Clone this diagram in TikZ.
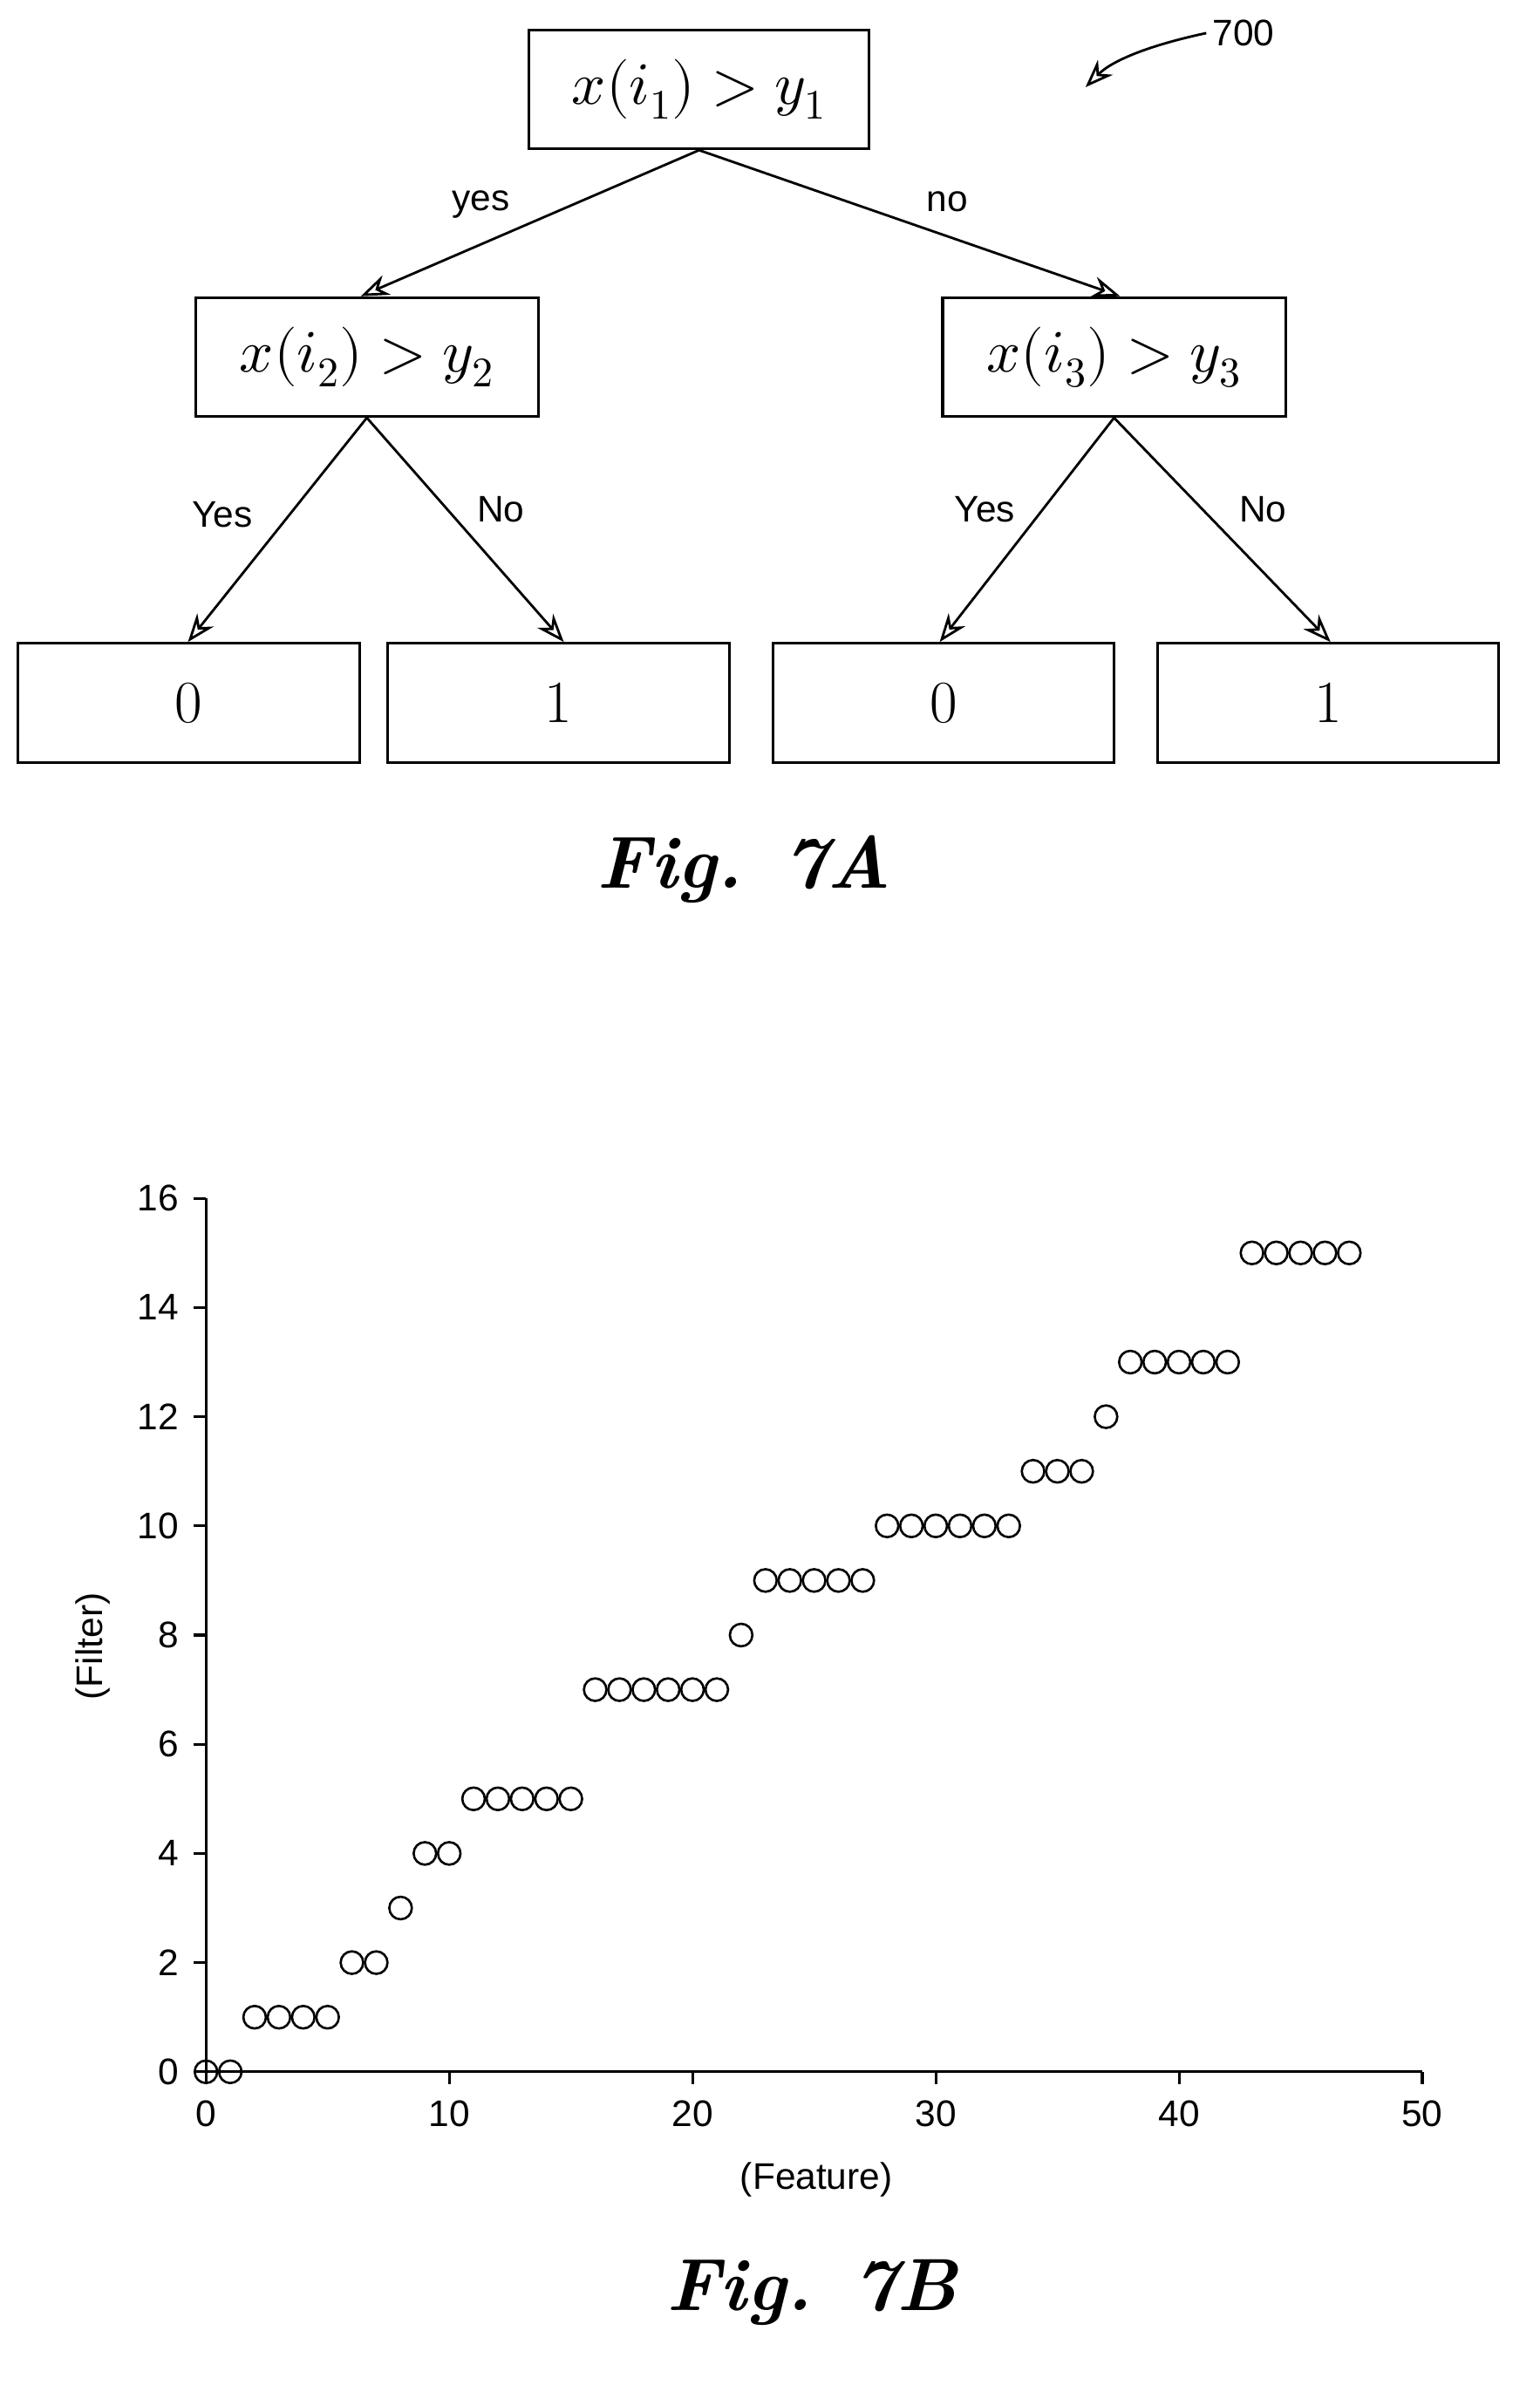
\documentclass[tikz,border=0pt]{standalone}
\usetikzlibrary{arrows.meta}
\usepackage{fontspec}
\usepackage{unicode-math}
\setmathfont{Latin Modern Math}
\newfontfamily\lab{Liberation Sans}
\begin{document}
\begin{tikzpicture}[x=0.03cm,y=-0.03cm,
  box/.style={draw,line width=1.5pt,minimum width=6.84cm,minimum height=2.37cm,font=\fontsize{34}{38}\selectfont,inner sep=0pt},
  leaf/.style={box,minimum width=6.81cm},
  arr/.style={line width=1.4pt,-{Stealth[length=16pt,width=12pt,open]}},
  lbl/.style={font=\lab\fontsize{21}{24}\selectfont},
  tick/.style={font=\lab\fontsize{21}{24}\selectfont},
  pt/.style={draw,line width=1.3pt,circle,inner sep=0pt,minimum size=0.45cm}]
\useasboundingbox (0,0) rectangle (1024,1591);
\node[box,minimum width=6.78cm] (r) at (465,59.5) {$x(i_1) > y_1$};
\node[box] (a) at (244,237.5) {$x(i_2) > y_2$};
\node[box] (b) at (741,237.5) {$x(i_3) > y_3$};
\node[leaf] (l1) at (125.5,467.5) {0};
\node[leaf] (l2) at (371.5,467.5) {1};
\node[leaf] (l3) at (627.5,467.5) {0};
\node[leaf] (l4) at (883.5,467.5) {1};
\draw[arr] (r.south) -- (240,197);
\draw[arr] (r.south) -- (745,197);
\draw[arr] (a.south) -- (125,427);
\draw[arr] (a.south) -- (375,427);
\draw[arr] (b.south) -- (625,427);
\draw[arr] (b.south) -- (885,427);
\node[lbl] (t1) at (320,136) {yes};
\node[lbl] (t2) at (630,134) {no};
\node[lbl] (t3) at (148,342) {Yes};
\node[lbl] (t4) at (333,339) {No};
\node[lbl] (t5) at (655,339) {Yes};
\node[lbl] (t6) at (840,339) {No};
\node[lbl] (n700) at (827,22) {700};
\coordinate (ae) at (722,58);
\draw[arr] (n700.west) .. controls (765,30) and (740,40) .. (ae);
\node[font=\bfseries\itshape\fontsize{42}{46}\selectfont] (f7a) at (495,578) {Fig. 7A};
\draw[line width=1.5pt] (137,797) -- (137,1378) -- (946,1378);
\foreach \v in {0,2,...,16}{\draw[line width=1.5pt] (137,1378-36.31*\v) -- (129,1378-36.31*\v);
  \node[tick,anchor=east] at (123,1378-36.31*\v) {\v};}
\foreach \v in {0,10,...,50}{\draw[line width=1.5pt] (137+16.18*\v,1378) -- (137+16.18*\v,1386);
  \node[tick,anchor=north] at (137+16.18*\v,1393) {\v};}
\node[tick,rotate=90] (yl) at (62,1095) {(Filter)};
\node[tick] (xl) at (543,1450) {(Feature)};
\foreach \x/\y in {0/0,1/0,2/1,3/1,4/1,5/1,6/2,7/2,8/3,9/4,10/4,11/5,12/5,13/5,14/5,15/5,16/7,17/7,18/7,19/7,20/7,21/7,22/8,23/9,24/9,25/9,26/9,27/9,28/10,29/10,30/10,31/10,32/10,33/10,34/11,35/11,36/11,37/12,38/13,39/13,40/13,41/13,42/13,43/15,44/15,45/15,46/15,47/15}
  \node[pt] at (137+16.18*\x,1378-36.31*\y) {};
\node[font=\bfseries\itshape\fontsize{42}{46}\selectfont] (f7b) at (540,1525) {Fig. 7B};
\end{tikzpicture}
\end{document}
